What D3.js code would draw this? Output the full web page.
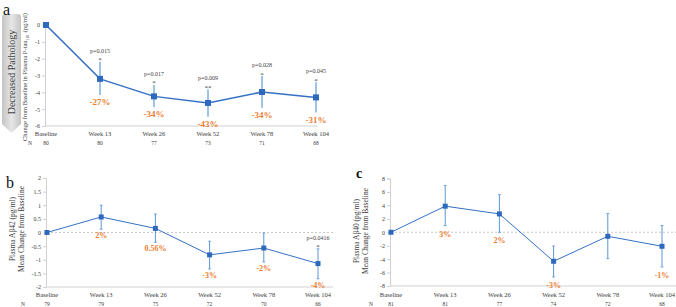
<!DOCTYPE html>
<html lang="en">
<head>
<meta charset="UTF-8" />
<title>Plasma biomarkers change from baseline</title>
<script src="https://d3js.org/d3.v7.min.js"></script>
<style>
  body { margin: 0; background: #fff; }
  svg { display: block; font-family: "Liberation Serif", "DejaVu Serif", serif; }
</style>
</head>
<body>
<svg width="676" height="307"></svg>
<script>
// ---- data ----
const weeks = ["Baseline", "Week 13", "Week 26", "Week 52", "Week 78", "Week 104"];

// a: P-tau181
const tauMean  = [0, -3.20, -4.24, -4.63, -3.98, -4.30];
const tauUpper = [0, -2.18, -3.56, -3.82, -3.03, -3.40];
const tauLower = [0, -4.16, -4.89, -5.45, -4.91, -5.20];
const tauN     = [80, 80, 77, 73, 71, 68];
const tauPct   = [null, "-27%", "-34%", "-43%", "-34%", "-31%"];
const tauP     = [null, "p=0.015", "p=0.017", "p=0.009", "p=0.028", "p=0.045"];
const tauStar  = [null, "*", "*", "**", "*", "*"];
const tauTicks = [0, -1, -2, -3, -4, -5, -6];

// b: Abeta42
const ab42Mean  = [0, 0.57, 0.15, -0.82, -0.57, -1.14];
const ab42Upper = [0, 1.00, 0.68, -0.32, -0.02, -0.60];
const ab42Lower = [0, 0.12, -0.36, -1.34, -1.08, -1.70];
const ab42N     = [79, 79, 75, 72, 70, 66];
const ab42Pct   = [null, "2%", "0.56%", "-3%", "-2%", "-4%"];
const ab42P     = [null, null, null, null, null, "p=0.0416"];
const ab42Star  = [null, null, null, null, null, "*"];
const ab42Ticks = [2, 1.5, 1, 0.5, 0, -0.5, -1, -1.5, -2];

// c: Abeta40
const ab40Mean  = [0, 3.88, 2.73, -4.32, -0.60, -2.09];
const ab40Upper = [0, 6.96, 5.60, -2.04, 2.78, 1.00];
const ab40Lower = [0, 1.00, 0.00, -6.66, -3.93, -5.17];
const ab40N     = [81, 81, 77, 74, 72, 68];
const ab40Pct   = [null, "3%", "2%", "-3%", null, "-1%"];
const ab40Ticks = [8, 6, 4, 2, 0, -2, -4, -6, -8];

const svg = d3.select("svg");
const lineBlue = "#3470c4";
const orange = "#ed7d31";
const textGray = "#404040";

// ---- decreased pathology arrow (panel a) ----
const defs = svg.append("defs");
const grad = defs.append("linearGradient").attr("id", "arrowGrad")
  .attr("x1", "0%").attr("x2", "100%");
grad.append("stop").attr("offset", "0%").attr("stop-color", "#c4c4c4");
grad.append("stop").attr("offset", "50%").attr("stop-color", "#e6e6e6");
grad.append("stop").attr("offset", "100%").attr("stop-color", "#c4c4c4");

svg.append("path")
  .attr("d", "M2,17 Q2,14 5,14 L18,14 Q21,14 21,17 L21,124 L11.5,133 L2,124 Z")
  .attr("fill", "url(#arrowGrad)");
svg.append("text")
  .attr("transform", "translate(14.5,72) rotate(-90)")
  .attr("text-anchor", "middle")
  .attr("font-size", 10)
  .attr("fill", textGray)
  .text("Decreased Pathology");

function drawPanel(cfg) {
  const x = d3.scalePoint().domain(weeks).range(cfg.xRange);
  const y = d3.scaleLinear().domain(cfg.yDomain).range(cfg.yRange);
  const g = svg.append("g");

  // panel letter
  g.append("text")
    .attr("x", cfg.letterPos[0]).attr("y", cfg.letterPos[1])
    .attr("font-size", cfg.letterSize)
    .attr("font-weight", cfg.letterWeight || "normal")
    .attr("fill", "#111")
    .text(cfg.letter);

  // y axis
  const yAxis = d3.axisLeft(y).tickValues(cfg.ticks).tickFormat(d => String(d))
    .tickSize(3).tickPadding(2);
  const ya = g.append("g")
    .attr("transform", `translate(${cfg.xRange[0] - 1},0)`)
    .call(yAxis);
  ya.attr("font-family", null);
  ya.select(".domain").attr("stroke", "#d0d0d0");
  ya.selectAll(".tick line").attr("stroke", "#d0d0d0");
  ya.selectAll(".tick text")
    .attr("font-size", 6)
    .attr("fill", textGray);

  // bottom axis line
  g.append("line")
    .attr("x1", cfg.xRange[0] - 1).attr("x2", cfg.axisEnd)
    .attr("y1", y(cfg.yDomain[0])).attr("y2", y(cfg.yDomain[0]))
    .attr("stroke", "#d0d0d0");

  // zero line
  if (cfg.zeroLine) {
    g.append("line")
      .attr("x1", cfg.xRange[0]).attr("x2", cfg.axisEnd)
      .attr("y1", y(0)).attr("y2", y(0))
      .attr("stroke", "#c8c8c8")
      .attr("stroke-dasharray", "2,2");
  }

  // y title
  const tt = g.append("text")
    .attr("transform", `translate(${cfg.titlePos[0]},${cfg.titlePos[1]}) rotate(-90)`)
    .attr("text-anchor", "middle")
    .attr("font-size", cfg.titleSize)
    .attr("fill", textGray);
  cfg.title.forEach((line, i) => {
    const ts = tt.append("tspan").attr("x", 0).attr("dy", i === 0 ? 0 : cfg.titleSize * 1.15);
    line.forEach(part => {
      const s = ts.append("tspan").text(part.t);
      if (part.sub) s.attr("font-size", cfg.titleSize * 0.65).attr("dy", 1.5);
      if (part.after) s.attr("dy", -1.5);
    });
  });

  // category labels
  g.selectAll(".cat").data(weeks).enter().append("text")
    .attr("x", d => x(d)).attr("y", cfg.catY)
    .attr("text-anchor", "middle")
    .attr("font-size", 6.5)
    .attr("fill", textGray)
    .text(d => d);

  g.append("text")
    .attr("x", cfg.nX).attr("y", cfg.nY)
    .attr("text-anchor", "middle")
    .attr("font-size", 5.5)
    .attr("fill", textGray)
    .text("N");
  g.selectAll(".n").data(cfg.n).enter().append("text")
    .attr("x", (d, i) => x(weeks[i])).attr("y", cfg.nY)
    .attr("text-anchor", "middle")
    .attr("font-size", 5.5)
    .attr("fill", textGray)
    .text(d => d);

  const rows = weeks.map((w, i) => ({
    w, m: cfg.mean[i], hi: cfg.upper[i], lo: cfg.lower[i],
    pct: cfg.pct[i], p: cfg.p ? cfg.p[i] : null, star: cfg.star ? cfg.star[i] : null
  }));

  // error bars
  rows.filter(d => d.hi !== d.lo).forEach(d => {
    g.append("line")
      .attr("x1", x(d.w)).attr("x2", x(d.w))
      .attr("y1", y(d.hi)).attr("y2", y(d.lo))
      .attr("stroke", cfg.errColor).attr("stroke-width", cfg.errWidth);
    if (cfg.caps) {
      [d.hi, d.lo].forEach(v => {
        g.append("line")
          .attr("x1", x(d.w) - 1.5).attr("x2", x(d.w) + 1.5)
          .attr("y1", y(v)).attr("y2", y(v))
          .attr("stroke", cfg.errColor).attr("stroke-width", 0.8);
      });
    }
  });

  // mean line
  g.append("path")
    .datum(rows)
    .attr("fill", "none")
    .attr("stroke", lineBlue)
    .attr("stroke-width", cfg.lineWidth)
    .attr("d", d3.line().x(d => x(d.w)).y(d => y(d.m)));

  // markers
  g.selectAll(".mk").data(rows).enter().append("rect")
    .attr("x", d => x(d.w) - cfg.mk / 2)
    .attr("y", d => y(d.m) - cfg.mk / 2)
    .attr("width", cfg.mk).attr("height", cfg.mk)
    .attr("fill", "#2f69bd");

  // percentage labels
  g.selectAll(".pct").data(rows.filter(d => d.pct)).enter().append("text")
    .attr("x", d => x(d.w))
    .attr("y", d => y(d.lo) + cfg.pctOffset)
    .attr("text-anchor", "middle")
    .attr("font-size", cfg.pctSize)
    .attr("font-weight", "bold")
    .attr("fill", orange)
    .text(d => d.pct);

  // significance
  rows.filter(d => d.p).forEach(d => {
    g.append("text")
      .attr("x", x(d.w)).attr("y", y(d.hi) - 9)
      .attr("text-anchor", "middle")
      .attr("font-size", 6)
      .attr("fill", textGray)
      .text(d.p);
    g.append("text")
      .attr("x", x(d.w)).attr("y", y(d.hi) + 0.5)
      .attr("text-anchor", "middle")
      .attr("font-size", 7)
      .attr("fill", textGray)
      .text(d.star);
  });
}

drawPanel({
  letter: "a", letterPos: [3, 15], letterSize: 16,
  xRange: [46, 316], yDomain: [-6, 0], yRange: [126, 25], axisEnd: 317,
  ticks: tauTicks, zeroLine: false,
  title: [[{ t: "Change from Baseline in Plasma P-tau" }, { t: "181", sub: true }, { t: " (pg/ml)", after: true }]],
  titlePos: [27, 77], titleSize: 6.5,
  catY: 135.5, nX: 30, nY: 144.5, n: tauN,
  mean: tauMean, upper: tauUpper, lower: tauLower, pct: tauPct, p: tauP, star: tauStar,
  errColor: "#9fc3e8", errWidth: 2, caps: false, lineWidth: 1.5, mk: 6,
  pctOffset: 10, pctSize: 9
});

drawPanel({
  letter: "b", letterPos: [6, 188], letterSize: 16,
  xRange: [47, 318], yDomain: [-2, 2], yRange: [287, 178], axisEnd: 333,
  ticks: ab42Ticks, zeroLine: true,
  title: [[{ t: "Plasma A\u03b242 (pg/ml)" }], [{ t: "Mean Change from Baseline" }]],
  titlePos: [15, 229], titleSize: 7.5,
  catY: 297, nX: 23, nY: 306, n: ab42N,
  mean: ab42Mean, upper: ab42Upper, lower: ab42Lower, pct: ab42Pct, p: ab42P, star: ab42Star,
  errColor: "#5b95d5", errWidth: 1, caps: true, lineWidth: 1, mk: 5,
  pctOffset: 9, pctSize: 8
});

drawPanel({
  letter: "c", letterPos: [356, 178], letterSize: 14, letterWeight: "bold",
  xRange: [391, 662], yDomain: [-8, 8], yRange: [286, 178.5], axisEnd: 676,
  ticks: ab40Ticks, zeroLine: true,
  title: [[{ t: "Plasma A\u03b240 (pg/ml)" }], [{ t: "Mean Change from Baseline" }]],
  titlePos: [359, 231], titleSize: 7.5,
  catY: 297, nX: 371, nY: 306, n: ab40N,
  mean: ab40Mean, upper: ab40Upper, lower: ab40Lower, pct: ab40Pct,
  errColor: "#5b95d5", errWidth: 1, caps: true, lineWidth: 1, mk: 5,
  pctOffset: 11, pctSize: 8
});
</script>
</body>
</html>
